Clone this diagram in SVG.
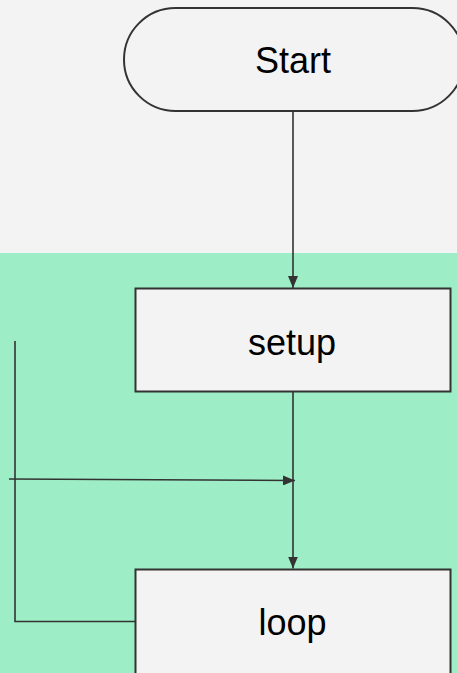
<svg xmlns="http://www.w3.org/2000/svg" width="457" height="673" viewBox="0 0 457 673">
  <defs>
    <marker id="arrow" viewBox="0 0 12 10" refX="12" refY="5" markerWidth="12" markerHeight="10" markerUnits="userSpaceOnUse" orient="auto">
      <path d="M0,0 L12,5 L0,10 Z" fill="#333333"/>
    </marker>
  </defs>
  <style>
    .node { fill: #f3f3f3; stroke: #333333; stroke-width: 2; }
    .label { font-family: "Liberation Sans", Arial, sans-serif; font-size: 36px; fill: #000000; text-anchor: middle; }
    .edge { fill: none; stroke: #333333; stroke-width: 1.6; }
  </style>

  <!-- backdrop: grey top, green lane below -->
  <rect x="0" y="0" width="457" height="673" fill="#f3f3f3"/>
  <rect x="0" y="253" width="457" height="420" fill="#9deec6"/>

  <g id="start">
    <rect class="node" x="124" y="8" width="340" height="103" rx="51.5" ry="51.5"/>
    <text class="label" x="293" y="73">Start</text>
  </g>

  <g id="setup">
    <rect class="node" x="135.5" y="288.5" width="315" height="103"/>
    <text class="label" x="292" y="355">setup</text>
  </g>

  <g id="loop">
    <rect class="node" x="135.5" y="569.5" width="315" height="120"/>
    <text class="label" x="292.5" y="635">loop</text>
  </g>

  <g id="connectors">
    <line class="edge" x1="293" y1="111" x2="293" y2="288" marker-end="url(#arrow)"/>
    <line class="edge" x1="293" y1="392" x2="293" y2="568.5" marker-end="url(#arrow)"/>
    <line class="edge" x1="9" y1="479" x2="295" y2="480.5" marker-end="url(#arrow)"/>
    <polyline class="edge" points="135.5,621.5 15,621.5 15,341"/>
  </g>
</svg>
